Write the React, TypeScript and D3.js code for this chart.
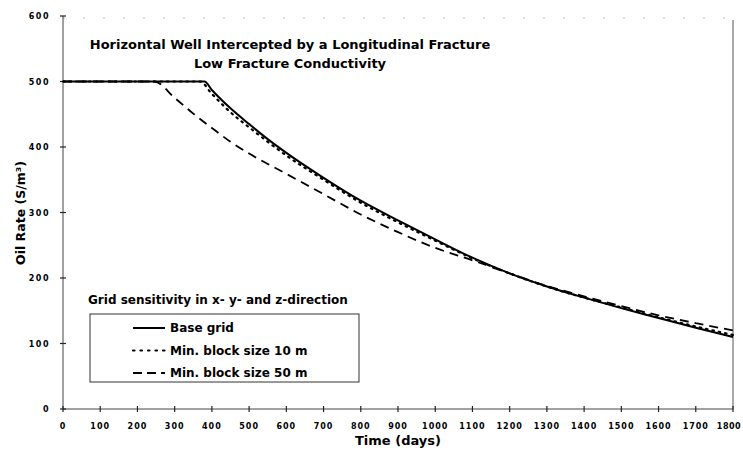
import React from 'react';
import * as d3 from 'd3';

// values (days, oil rate)
const baseDays = [0, 380, 400, 450, 500, 550, 600, 700, 800, 900, 1000, 1100, 1200, 1300, 1400, 1500, 1600, 1700, 1800];
const baseRate = [500, 500, 487, 459, 435, 412, 391, 353, 318, 288, 259, 231, 207, 187, 170, 154, 139, 124, 110];

const fineDays = [0, 368, 400, 450, 500, 550, 600, 700, 800, 900, 1000, 1100, 1200, 1300, 1400, 1500, 1600, 1700, 1800];
const fineRate = [500, 500, 481, 453, 430, 408, 387, 350, 315, 285, 257, 230, 207, 187, 170, 155, 140, 126, 113];

const coarseDays = [0, 245, 300, 350, 400, 450, 500, 600, 700, 800, 900, 1000, 1100, 1200, 1300, 1400, 1500, 1600, 1700, 1800];
const coarseRate = [500, 500, 475, 451, 429, 408, 390, 359, 328, 297, 270, 246, 227, 207, 188, 172, 157, 143, 131, 120];

const xTicks = d3.range(0, 1801, 100);
const yTicks = [0, 100, 200, 300, 400, 500, 600];

const titleLines = ['Horizontal Well Intercepted by a Longitudinal Fracture', 'Low Fracture Conductivity'];
const legendTitle = 'Grid sensitivity in x- y- and z-direction';
const legendLabels = ['Base grid', 'Min. block size 10 m', 'Min. block size 50 m'];

const W = 743;
const H = 450;
const font = "'DejaVu Sans', sans-serif";

export default function App() {
  const x = d3.scaleLinear().domain([0, 1800]).range([63, 733]);
  const y = d3.scaleLinear().domain([0, 600]).range([409, 16]);

  const line = d3
    .line<[number, number]>()
    .x(d => x(d[0]))
    .y(d => y(d[1]))
    .curve(d3.curveMonotoneX);

  const series = [
    { days: baseDays, rate: baseRate, dash: null, width: 2 },
    { days: fineDays, rate: fineRate, dash: '1.5,5', width: 2.2 },
    { days: coarseDays, rate: coarseRate, dash: '9,6', width: 1.8 },
  ];

  const legendX = 90;
  const legendTop = 314;

  return (
    <svg width={W} height={H} style={{ position: 'absolute', left: 0, top: 0, background: '#fff' }}>
      {/* faint top border */}
      <line x1={x(0)} x2={x(1800)} y1={18} y2={18} stroke="#bbb" strokeWidth={1} strokeDasharray="2,18" />
      {/* axes */}
      <line x1={x(0)} x2={x(0)} y1={y(600)} y2={y(0)} stroke="#444" strokeWidth={1} />
      <line x1={x(1800)} x2={x(1800)} y1={20} y2={y(0)} stroke="#555" strokeWidth={1} />
      <line x1={x(0)} x2={x(1800)} y1={y(0)} y2={y(0)} stroke="#444" strokeWidth={1} />

      {yTicks.map(t => (
        <g key={'y' + t}>
          <line x1={x(0) - 3} x2={x(0) + 3} y1={y(t)} y2={y(t)} stroke="#222" strokeWidth={1.2} />
          <text x={50} y={y(t) + 3} textAnchor="end" fontFamily={font} fontWeight="bold" fontSize={8} letterSpacing={1.5}>
            {t}
          </text>
        </g>
      ))}

      {xTicks.map(t => (
        <g key={'x' + t}>
          <line x1={x(t)} x2={x(t)} y1={y(0) - 3} y2={y(0) + 3} stroke="#222" strokeWidth={1.2} />
          <text
            x={t === 1800 ? x(t) - 4 : x(t)}
            y={429}
            textAnchor="middle"
            fontFamily={font}
            fontWeight="bold"
            fontSize={8}
            letterSpacing={t === 1800 ? 0.5 : 1}
          >
            {t}
          </text>
        </g>
      ))}

      <text x={398} y={445} textAnchor="middle" fontFamily={font} fontWeight="bold" fontSize={13}>
        Time (days)
      </text>
      <text
        transform={`translate(25,213) rotate(-90)`}
        textAnchor="middle"
        fontFamily={font}
        fontWeight="bold"
        fontSize={12.5}
      >
        Oil Rate (S/m³)
      </text>

      {titleLines.map((t, i) => (
        <text key={t} x={290} y={49 + i * 19} textAnchor="middle" fontFamily={font} fontWeight="bold" fontSize={13}>
          {t}
        </text>
      ))}

      {series.map((s, i) => (
        <path
          key={i}
          d={line(s.days.map((d, j) => [d, s.rate[j]] as [number, number])) || ''}
          fill="none"
          stroke="#000"
          strokeWidth={s.width}
          strokeDasharray={s.dash || undefined}
          strokeLinecap={i === 1 ? 'round' : 'butt'}
        />
      ))}

      {/* legend */}
      <text x={88} y={304} fontFamily={font} fontWeight="bold" fontSize={12}>
        {legendTitle}
      </text>
      <rect x={legendX} y={legendTop} width={269} height={68} fill="#fff" stroke="#333" strokeWidth={1} />
      {series.map((s, i) => (
        <g key={'l' + i}>
          <line
            x1={133}
            x2={165}
            y1={legendTop + 14 + i * 22.5}
            y2={legendTop + 14 + i * 22.5}
            stroke="#000"
            strokeWidth={s.width}
            strokeDasharray={i === 1 ? '1.5,6' : i === 2 ? '9,5' : undefined}
            strokeLinecap={i === 1 ? 'round' : 'butt'}
          />
          <text x={170} y={legendTop + 18 + i * 22.5} fontFamily={font} fontWeight="bold" fontSize={12}>
            {legendLabels[i]}
          </text>
        </g>
      ))}
    </svg>
  );
}
